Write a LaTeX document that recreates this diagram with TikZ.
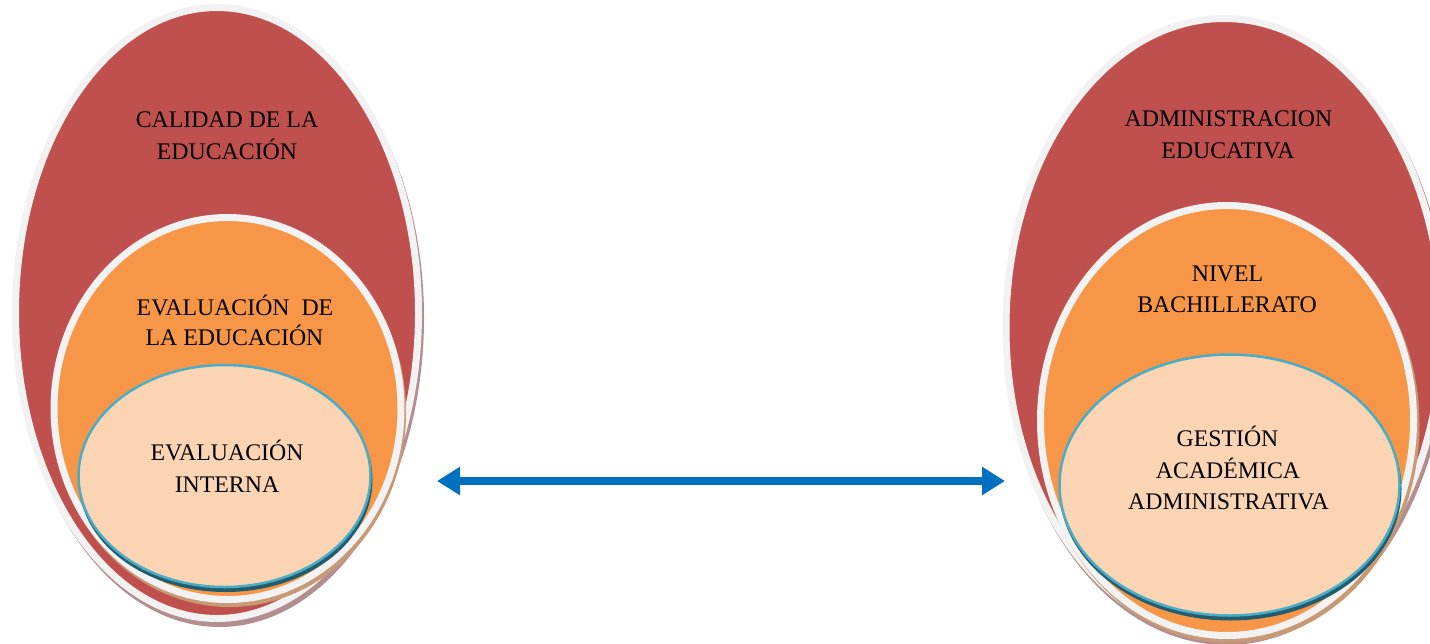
\documentclass[tikz,border=0pt]{standalone}
\usepackage{fontspec}
\setmainfont{Liberation Serif}
\usetikzlibrary{arrows.meta}
\definecolor{cred}{HTML}{C0504D}
\definecolor{corange}{HTML}{F79646}
\definecolor{cpeach}{HTML}{FBD4B4}
\definecolor{cblue}{HTML}{4BACC6}
\definecolor{cteal}{HTML}{215D6E}
\definecolor{cgray}{HTML}{F2F2F2}
\definecolor{cshadowA}{HTML}{B38E90}
\definecolor{cshadowB}{HTML}{C89A74}
\definecolor{carrow}{HTML}{0070C0}
\begin{document}
\begin{tikzpicture}[x=1pt,y=-1pt,
  lbl/.style={anchor=base, font=\fontsize{23.8}{28}\selectfont, text=black, inner sep=0pt},
  outerell/.style={fill=cred, draw=cgray, line width=7pt},
  midell/.style={fill=corange, draw=cgray, line width=7pt},
  innerell/.style={fill=cpeach, draw=cblue, line width=2.5pt},
  shadowout/.style={fill=cshadowA},
  shadowmid/.style={fill=cshadowB},
  shadowin/.style={fill=cteal},
  biarrow/.style={draw=carrow, line width=8pt,
    {Triangle[length=23pt,width=27pt]}-{Triangle[length=23pt,width=27pt]}}
]
\useasboundingbox (0,0) rectangle (1430,643);
\clip (0,0) rectangle (1430,643);

% ---------- left group ----------
\fill[shadowout] (219.5,318) ellipse [x radius=204.5, y radius=309];
\path[outerell] (217,313) ellipse [x radius=201.5, y radius=305.5];
\fill[shadowmid] (229.5,412.5) ellipse [x radius=176.5, y radius=194.5];
\path[midell] (227.5,408.5) ellipse [x radius=173.5, y radius=191];
\fill[shadowin] (225.5,480) ellipse [x radius=147, y radius=112];
\path[innerell] (224.5,476) ellipse [x radius=146, y radius=111];

\node[lbl] (l1a) at (227,127.7) {CALIDAD DE LA};
\node[lbl] (l1b) at (227,159) {EDUCACIÓN};
\node[lbl] (l2a) at (235,315) {EVALUACIÓN\ \ DE};
\node[lbl] (l2b) at (234.5,345.7) {LA EDUCACIÓN};
\node[lbl] (l3a) at (227,460) {EVALUACIÓN};
\node[lbl] (l3b) at (227,492) {INTERNA};

% ---------- right group ----------
\fill[shadowout] (1226.5,332.5) ellipse [x radius=221.5, y radius=312.5];
\path[outerell] (1224,327.5) ellipse [x radius=218, y radius=309];
\fill[shadowmid] (1229.5,424.5) ellipse [x radius=190, y radius=218.5];
\path[midell] (1227,420.5) ellipse [x radius=186.5, y radius=215];
\fill[shadowin] (1230.5,489) ellipse [x radius=171, y radius=131.5];
\path[innerell] (1229.5,485) ellipse [x radius=170, y radius=130.5];

\node[lbl] (r1a) at (1228.5,126) {ADMINISTRACION};
\node[lbl] (r1b) at (1228,158) {EDUCATIVA};
\node[lbl] (r2a) at (1227.5,281) {NIVEL};
\node[lbl] (r2b) at (1227,312.7) {BACHILLERATO};
\node[lbl] (r3a) at (1227.5,446) {GESTIÓN};
\node[lbl] (r3b) at (1228,478) {ACADÉMICA};
\node[lbl] (r3c) at (1228.5,509) {ADMINISTRATIVA};

% ---------- arrow ----------
\coordinate (aL) at (437,481);
\coordinate (aR) at (1005,481);
\path[biarrow] (aL) -- (aR);
\end{tikzpicture}
\end{document}
